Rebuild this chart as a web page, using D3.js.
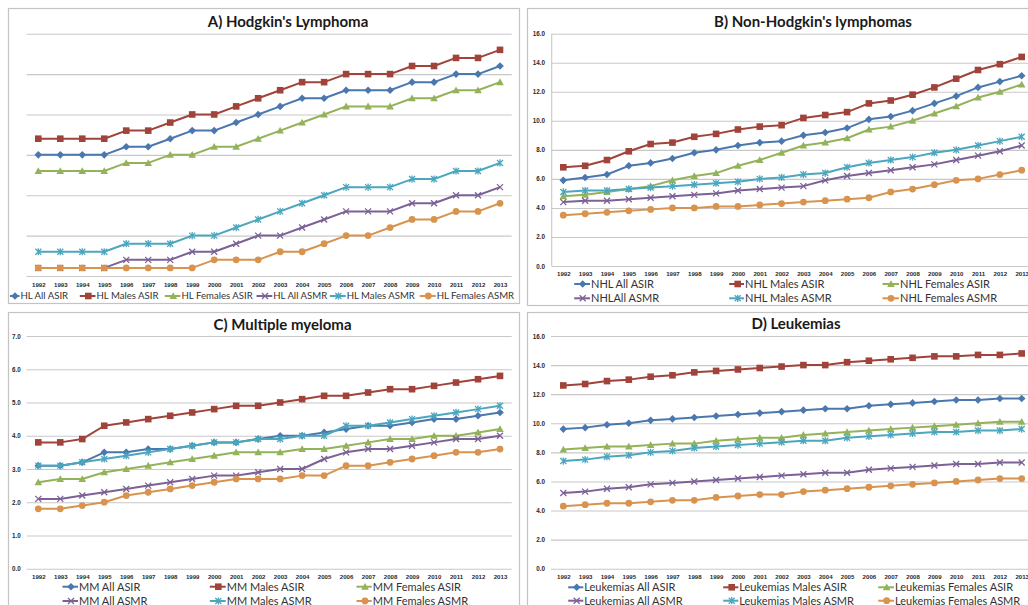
<!DOCTYPE html>
<html>
<head>
<meta charset="utf-8">
<script src="https://cdn.jsdelivr.net/npm/d3@7"></script>
<style>
  body { margin: 0; background: #fff; }
  svg { display: block; }
</style>
</head>
<body>
<svg id="chart" width="1028" height="605"></svg>
<script>
// ---- categories ----
const years = ["1992","1993","1994","1995","1996","1997","1998","1999","2000","2001","2002",
               "2003","2004","2005","2006","2007","2008","2009","2010","2011","2012","2013"];

// ---- A) Hodgkin's lymphoma ----
const hlLabels = ["HL All ASIR","HL Males ASIR","HL Females ASIR","HL All ASMR","HL Males ASMR","HL Females ASMR"];
const hlAllAsir     = [1.5,1.5,1.5,1.5,1.6,1.6,1.7,1.8,1.8,1.9,2.0,2.1,2.2,2.2,2.3,2.3,2.3,2.4,2.4,2.5,2.5,2.6];
const hlMalesAsir   = [1.7,1.7,1.7,1.7,1.8,1.8,1.9,2.0,2.0,2.1,2.2,2.3,2.4,2.4,2.5,2.5,2.5,2.6,2.6,2.7,2.7,2.8];
const hlFemalesAsir = [1.3,1.3,1.3,1.3,1.4,1.4,1.5,1.5,1.6,1.6,1.7,1.8,1.9,2.0,2.1,2.1,2.1,2.2,2.2,2.3,2.3,2.4];
const hlAllAsmr     = [0.1,0.1,0.1,0.1,0.2,0.2,0.2,0.3,0.3,0.4,0.5,0.5,0.6,0.7,0.8,0.8,0.8,0.9,0.9,1.0,1.0,1.1];
const hlMalesAsmr   = [0.3,0.3,0.3,0.3,0.4,0.4,0.4,0.5,0.5,0.6,0.7,0.8,0.9,1.0,1.1,1.1,1.1,1.2,1.2,1.3,1.3,1.4];
const hlFemalesAsmr = [0.1,0.1,0.1,0.1,0.1,0.1,0.1,0.1,0.2,0.2,0.2,0.3,0.3,0.4,0.5,0.5,0.6,0.7,0.7,0.8,0.8,0.9];
const hlTicks = ["0.0","0.5","1.0","1.5","2.0","2.5","3.0"];

// ---- B) Non-Hodgkin's lymphomas ----
const nhlLabels = ["NHL All ASIR","NHL Males ASIR","NHL Females ASIR","NHLAll ASMR","NHL Males ASMR","NHL Females ASMR"];
const nhlAllAsir     = [5.9,6.1,6.3,6.9,7.1,7.4,7.8,8.0,8.3,8.5,8.6,9.0,9.2,9.5,10.1,10.3,10.7,11.2,11.7,12.3,12.7,13.1];
const nhlMalesAsir   = [6.8,6.9,7.3,7.9,8.4,8.5,8.9,9.1,9.4,9.6,9.7,10.2,10.4,10.6,11.2,11.4,11.8,12.3,12.9,13.5,13.9,14.4];
const nhlFemalesAsir = [4.8,4.9,5.1,5.3,5.5,5.9,6.2,6.4,6.9,7.3,7.8,8.3,8.5,8.8,9.4,9.6,10.0,10.5,11.0,11.6,12.0,12.5];
const nhlAllAsmr     = [4.4,4.5,4.5,4.6,4.7,4.8,4.9,5.0,5.2,5.3,5.4,5.5,5.9,6.2,6.4,6.6,6.8,7.0,7.3,7.6,7.9,8.3];
const nhlMalesAsmr   = [5.1,5.2,5.2,5.3,5.4,5.5,5.6,5.7,5.8,6.0,6.1,6.3,6.4,6.8,7.1,7.3,7.5,7.8,8.0,8.3,8.6,8.9];
const nhlFemalesAsmr = [3.5,3.6,3.7,3.8,3.9,4.0,4.0,4.1,4.1,4.2,4.3,4.4,4.5,4.6,4.7,5.1,5.3,5.6,5.9,6.0,6.3,6.6];
const nhlTicks = ["0.0","2.0","4.0","6.0","8.0","10.0","12.0","14.0","16.0"];

// ---- C) Multiple myeloma ----
const mmLabels = ["MM All ASIR","MM Males ASIR","MM Females ASIR","MM All ASMR","MM Males ASMR","MM Females ASMR"];
const mmAllAsir     = [3.1,3.1,3.2,3.5,3.5,3.6,3.6,3.7,3.8,3.8,3.9,4.0,4.0,4.1,4.2,4.3,4.3,4.4,4.5,4.5,4.6,4.7];
const mmMalesAsir   = [3.8,3.8,3.9,4.3,4.4,4.5,4.6,4.7,4.8,4.9,4.9,5.0,5.1,5.2,5.2,5.3,5.4,5.4,5.5,5.6,5.7,5.8];
const mmFemalesAsir = [2.6,2.7,2.7,2.9,3.0,3.1,3.2,3.3,3.4,3.5,3.5,3.5,3.6,3.6,3.7,3.8,3.9,3.9,4.0,4.0,4.1,4.2];
const mmAllAsmr     = [2.1,2.1,2.2,2.3,2.4,2.5,2.6,2.7,2.8,2.8,2.9,3.0,3.0,3.3,3.5,3.6,3.6,3.7,3.8,3.9,3.9,4.0];
const mmMalesAsmr   = [3.1,3.1,3.2,3.3,3.4,3.5,3.6,3.7,3.8,3.8,3.9,3.9,4.0,4.0,4.3,4.3,4.4,4.5,4.6,4.7,4.8,4.9];
const mmFemalesAsmr = [1.8,1.8,1.9,2.0,2.2,2.3,2.4,2.5,2.6,2.7,2.7,2.7,2.8,2.8,3.1,3.1,3.2,3.3,3.4,3.5,3.5,3.6];
const mmTicks = ["0.0","1.0","2.0","3.0","4.0","5.0","6.0","7.0"];

// ---- D) Leukemias ----
const leuLabels = ["Leukemias All ASIR","Leukemias Males ASIR","Leukemias Females ASIR","Leukemias All ASMR","Leukemias Males ASMR","Leukemias Females ASMR"];
const leuAllAsir     = [9.6,9.7,9.9,10.0,10.2,10.3,10.4,10.5,10.6,10.7,10.8,10.9,11.0,11.0,11.2,11.3,11.4,11.5,11.6,11.6,11.7,11.7];
const leuMalesAsir   = [12.6,12.7,12.9,13.0,13.2,13.3,13.5,13.6,13.7,13.8,13.9,14.0,14.0,14.2,14.3,14.4,14.5,14.6,14.6,14.7,14.7,14.8];
const leuFemalesAsir = [8.2,8.3,8.4,8.4,8.5,8.6,8.6,8.8,8.9,9.0,9.0,9.2,9.3,9.4,9.5,9.6,9.7,9.8,9.9,10.0,10.1,10.1];
const leuAllAsmr     = [5.2,5.3,5.5,5.6,5.8,5.9,6.0,6.1,6.2,6.3,6.4,6.5,6.6,6.6,6.8,6.9,7.0,7.1,7.2,7.2,7.3,7.3];
const leuMalesAsmr   = [7.4,7.5,7.7,7.8,8.0,8.1,8.3,8.4,8.5,8.6,8.7,8.8,8.8,9.0,9.1,9.2,9.3,9.4,9.4,9.5,9.5,9.6];
const leuFemalesAsmr = [4.3,4.4,4.5,4.5,4.6,4.7,4.7,4.9,5.0,5.1,5.1,5.3,5.4,5.5,5.6,5.7,5.8,5.9,6.0,6.1,6.2,6.2];
const leuTicks = ["0.0","2.0","4.0","6.0","8.0","10.0","12.0","14.0","16.0"];

// ---- series styling (same order in every panel) ----
const seriesColors  = ["#4a78ae", "#a0433a", "#93b25a", "#7c6196", "#4ba6be", "#d8944f"];
const seriesSymbols = ["diamond", "square", "triangle", "x", "star", "circle"];

const svg = d3.select("#chart");

function drawMarker(g, sym, color, x, y) {
  switch (sym) {
    case "diamond":
      g.append("path").attr("d", `M${x},${y-3.8}L${x+3.8},${y}L${x},${y+3.8}L${x-3.8},${y}Z`).attr("fill", color);
      break;
    case "square":
      g.append("rect").attr("x", x-3.3).attr("y", y-3.3).attr("width", 6.6).attr("height", 6.6).attr("fill", color);
      break;
    case "triangle":
      g.append("path").attr("d", `M${x},${y-3.8}L${x+3.8},${y+3}L${x-3.8},${y+3}Z`).attr("fill", color);
      break;
    case "x":
      g.append("path").attr("d", `M${x-3},${y-3}L${x+3},${y+3}M${x-3},${y+3}L${x+3},${y-3}`)
        .attr("stroke", color).attr("stroke-width", 1.3).attr("fill", "none");
      break;
    case "star":
      g.append("path").attr("d", `M${x-3},${y-3}L${x+3},${y+3}M${x-3},${y+3}L${x+3},${y-3}M${x},${y-3.6}L${x},${y+3.6}`)
        .attr("stroke", color).attr("stroke-width", 1.3).attr("fill", "none");
      break;
    case "circle":
      g.append("circle").attr("cx", x).attr("cy", y).attr("r", 3.4).attr("fill", color);
      break;
  }
}

function drawPanel(p) {
  const root = svg.append("g");

  // frame
  const clipId = "clip-" + p.id;
  root.append("clipPath").attr("id", clipId)
    .append("rect").attr("x", p.box[0]).attr("y", p.box[1]).attr("width", p.box[2]).attr("height", p.box[3]);
  root.append("rect")
    .attr("x", p.box[0] + 0.5).attr("y", p.box[1] + 0.5)
    .attr("width", p.box[2]).attr("height", p.box[3])
    .attr("fill", "#fff").attr("stroke", "#c4c4c4").attr("stroke-width", 1.2);

  const g = root.append("g").attr("clip-path", `url(#${clipId})`);

  const x = d3.scalePoint().domain(years).range([p.xr[0], p.xr[1]]).padding(0.5);
  const tickVals = p.ticks.map(Number);
  const y = d3.scaleLinear().domain([0, d3.max(tickVals)]).range([p.yr[0], p.yr[1]]);

  // horizontal gridlines + value labels
  const yAxis = d3.axisLeft(y).tickValues(tickVals)
    .tickFormat((d, i) => p.ticks[i])
    .tickSize(-(p.grid[1] - p.grid[0])).tickPadding(p.grid[0] - p.ylabelX);
  const ya = g.append("g").attr("transform", `translate(${p.grid[0]},0)`).call(yAxis);
  ya.select(".domain").remove();
  ya.selectAll(".tick line").attr("stroke", "#c8c8c8").attr("stroke-width", 1.1);
  ya.selectAll(".tick text")
    .attr("font-family", "'Liberation Sans', Arial, sans-serif")
    .attr("font-size", 6.3).attr("font-weight", "bold").attr("fill", "#2a2a2a");
  if (p.labelClip) {
    const lc = "lclip-" + p.id;
    root.append("clipPath").attr("id", lc)
      .append("rect").attr("x", p.labelClip).attr("y", 0).attr("width", 1028).attr("height", 605);
    ya.selectAll(".tick text").attr("clip-path", `url(#${lc})`);
  }

  if (p.vaxis) {
    g.append("line").attr("x1", p.grid[0]).attr("x2", p.grid[0])
      .attr("y1", y.range()[0]).attr("y2", y.range()[1])
      .attr("stroke", "#c8c8c8").attr("stroke-width", 1.1);
  }

  // year labels
  const xAxis = d3.axisBottom(x).tickSize(0).tickPadding(0);
  const xa = g.append("g").attr("transform", `translate(0,${p.xlabelY})`).call(xAxis);
  xa.select(".domain").remove();
  xa.selectAll(".tick text")
    .attr("dy", "0.35em").attr("y", 0)
    .attr("font-family", "'Liberation Sans', Arial, sans-serif")
    .attr("font-size", 6.1).attr("font-weight", "bold").attr("fill", "#2a2a2a");

  // series lines and markers
  const line = d3.line().x((d, i) => x(years[i])).y(d => y(d));
  p.series.forEach((vals, k) => {
    const col = seriesColors[k];
    g.append("path").datum(vals).attr("d", line)
      .attr("fill", "none").attr("stroke", col).attr("stroke-width", 2)
      .attr("stroke-linejoin", "round");
    const mg = g.append("g");
    vals.forEach((v, i) => drawMarker(mg, seriesSymbols[k], col, x(years[i]), y(v)));
  });

  // title
  g.append("text").attr("x", p.title[1]).attr("y", p.title[2])
    .attr("text-anchor", "middle")
    .attr("font-family", "Lato, 'Open Sans', sans-serif").attr("font-weight", "bold")
    .attr("font-size", p.titleSize).attr("fill", "#1a1a1a")
    .text(p.title[0]);

  // legend
  p.legend.forEach((it, k) => {
    const col = seriesColors[k];
    const lg = g.append("g");
    lg.append("line").attr("x1", Math.max(it.mx - 8.5, p.box[0] + 2)).attr("x2", it.tx - 1)
      .attr("y1", it.y).attr("y2", it.y).attr("stroke", col).attr("stroke-width", 2);
    drawMarker(lg, seriesSymbols[k], col, it.mx, it.y);
    lg.append("text").attr("x", it.tx).attr("y", it.y).attr("dy", "0.35em")
      .attr("font-family", "Lato, 'Open Sans', sans-serif")
      .attr("font-size", p.legendSize).attr("fill", "#333")
      .text(p.labels[k]);
  });
}

// A) Hodgkin's lymphoma
drawPanel({
  id: "a", box: [8, 8, 511, 295],
  xr: [27.3, 511], yr: [276, 33.7], grid: [26.7, 511.7], ylabelX: 20, labelClip: 13.5,
  ticks: hlTicks, xlabelY: 284.5,
  series: [hlAllAsir, hlMalesAsir, hlFemalesAsir, hlAllAsmr, hlMalesAsmr, hlFemalesAsmr],
  labels: hlLabels,
  title: ["A) Hodgkin's Lymphoma", 288, 27], titleSize: 15,
  legendSize: 9.6,
  legend: [
    { mx: 15,    tx: 20.5,  y: 296 },
    { mx: 88.3,  tx: 96.5,  y: 296 },
    { mx: 173.3, tx: 181.5, y: 296 },
    { mx: 265,   tx: 273.3, y: 296 },
    { mx: 338.3, tx: 346.7, y: 296 },
    { mx: 428.3, tx: 436.7, y: 296 }
  ]
});

// B) Non-Hodgkin's lymphomas
drawPanel({
  id: "b", box: [527, 8, 510, 297],
  xr: [552.4, 1032.6], yr: [266, 33.7], grid: [551.7, 1040], ylabelX: 545, vaxis: true,
  ticks: nhlTicks, xlabelY: 274.3,
  series: [nhlAllAsir, nhlMalesAsir, nhlFemalesAsir, nhlAllAsmr, nhlMalesAsmr, nhlFemalesAsmr],
  labels: nhlLabels,
  title: ["B) Non-Hodgkin's lymphomas", 813, 26.5], titleSize: 15,
  legendSize: 11,
  legend: [
    { mx: 582.7, tx: 591, y: 284 },
    { mx: 737.7, tx: 745, y: 284 },
    { mx: 891,   tx: 900, y: 284 },
    { mx: 582.7, tx: 591, y: 298.3 },
    { mx: 737.7, tx: 745, y: 298.3 },
    { mx: 891,   tx: 900, y: 298.3 }
  ]
});

// C) Multiple myeloma
drawPanel({
  id: "c", box: [8, 312, 511, 300],
  xr: [27.3, 511], yr: [568.7, 336], grid: [26.7, 511.7], ylabelX: 20.7,
  ticks: mmTicks, xlabelY: 576.7,
  series: [mmAllAsir, mmMalesAsir, mmFemalesAsir, mmAllAsmr, mmMalesAsmr, mmFemalesAsmr],
  labels: mmLabels,
  title: ["C) Multiple myeloma", 282.5, 330], titleSize: 15,
  legendSize: 11,
  legend: [
    { mx: 71,    tx: 79,    y: 586.7 },
    { mx: 218.3, tx: 226.7, y: 586.7 },
    { mx: 365,   tx: 372.7, y: 586.7 },
    { mx: 71,    tx: 79,    y: 601 },
    { mx: 218.3, tx: 226.7, y: 601 },
    { mx: 365,   tx: 372.7, y: 601 }
  ]
});

// D) Leukemias
drawPanel({
  id: "d", box: [527, 312, 510, 300],
  xr: [552.4, 1032.6], yr: [568.7, 336], grid: [551, 1040], ylabelX: 545,
  ticks: leuTicks, xlabelY: 576.7,
  series: [leuAllAsir, leuMalesAsir, leuFemalesAsir, leuAllAsmr, leuMalesAsmr, leuFemalesAsmr],
  labels: leuLabels,
  title: ["D) Leukemias", 796, 329], titleSize: 15,
  legendSize: 11,
  legend: [
    { mx: 576.7, tx: 584.3, y: 587.3 },
    { mx: 731.7, tx: 739.3, y: 587.3 },
    { mx: 886.7, tx: 895,   y: 587.3 },
    { mx: 576.7, tx: 584.3, y: 600.7 },
    { mx: 731.7, tx: 739.3, y: 600.7 },
    { mx: 886.7, tx: 895,   y: 600.7 }
  ]
});
</script>
</body>
</html>
